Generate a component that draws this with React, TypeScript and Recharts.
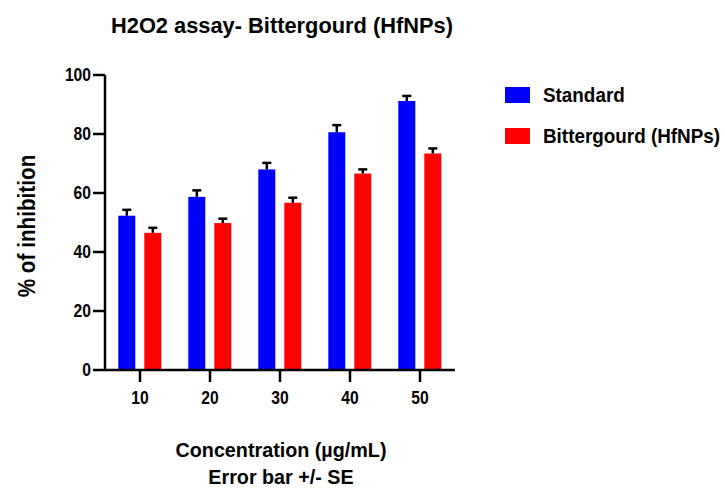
import { BarChart, Bar, XAxis, YAxis } from 'recharts';

const concentrations = ['10', '20', '30', '40', '50'];
const standardValues = [52.3, 58.7, 68.0, 80.6, 91.2];
const standardSE = [2.0, 2.2, 2.2, 2.4, 1.7];
const hfnpValues = [46.5, 49.8, 56.7, 66.6, 73.4];
const hfnpSE = [1.7, 1.5, 1.7, 1.4, 1.7];
const yTicks = [0, 20, 40, 60, 80, 100];

const data = concentrations.map((name, i) => ({
  name,
  standard: standardValues[i],
  standardSE: standardSE[i],
  hfnp: hfnpValues[i],
  hfnpSE: hfnpSE[i],
}));

const FONT = '"Liberation Sans", Arial, sans-serif';

// bar with an upper-only SE whisker, scaled from the bar's own height
const barWithError = (valueKey: string, errKey: string) => (props: any) => {
  const { x, y, width, height, fill, payload } = props;
  const value = payload[valueKey];
  const err = payload[errKey];
  const pxPerUnit = value ? height / value : 0;
  const top = y - err * pxPerUnit;
  const cx = x + width / 2;
  return (
    <g>
      <rect x={x} y={y} width={width} height={height} fill={fill} />
      <line x1={cx} x2={cx} y1={y} y2={top} stroke="#000" strokeWidth={2.5} />
      <line x1={cx - 4.5} x2={cx + 4.5} y1={top} y2={top} stroke="#000" strokeWidth={2.5} />
    </g>
  );
};

// slightly condensed bold tick text
const CondensedTick = (props: any) => {
  const { x, y, payload, textAnchor, vertical } = props;
  return (
    <g transform={`translate(${x},${y}) scale(0.87,1)`}>
      <text
        x={0}
        y={0}
        dy={vertical ? '0.36em' : '0.71em'}
        textAnchor={textAnchor}
        fill="#000"
        fontSize={18}
        fontWeight={700}
        fontFamily={FONT}>
        {payload.value}
      </text>
    </g>
  );
};

const legendItems = [
  { label: 'Standard', color: '#0000FF' },
  { label: 'Bittergourd (HfNPs)', color: '#FF0000' },
];

const LegendBox = () => (
  <div style={{ position: 'absolute', left: 505, top: 74, fontFamily: FONT }}>
    {legendItems.map((it) => (
      <div key={it.label} style={{ display: 'flex', alignItems: 'center', height: 41.5 }}>
        <div style={{ width: 25, height: 16, background: it.color, marginRight: 13, flexShrink: 0 }} />
        <span
          style={{
            fontSize: 20.5,
            fontWeight: 700,
            color: '#000',
            whiteSpace: 'nowrap',
            display: 'inline-block',
            transform: 'scaleX(0.92)',
            transformOrigin: 'left center',
          }}>
          {it.label}
        </span>
      </div>
    ))}
  </div>
);

export default function App() {
  return (
    <div style={{ position: 'relative', width: 725, height: 488, fontFamily: FONT }}>
      <style>{`body{margin:0}`}</style>
      <div
        style={{
          position: 'absolute',
          top: 15,
          left: 0,
          width: 564,
          textAlign: 'center',
          fontSize: 22.5,
          lineHeight: '22.5px',
          fontWeight: 700,
          zIndex: 2,
          transform: 'scaleX(0.97)',
        }}>
        H2O2 assay- Bittergourd (HfNPs)
      </div>
      <div
        style={{
          position: 'absolute',
          top: 436,
          left: 0,
          width: 562,
          textAlign: 'center',
          fontSize: 21,
          fontWeight: 700,
          lineHeight: '27px',
          zIndex: 2,
          transform: 'scaleX(0.94)',
        }}>
        <div>Concentration (µg/mL)</div>
        <div>Error bar +/- SE</div>
      </div>
      <div
        style={{
          position: 'absolute',
          left: 27,
          top: 226,
          transform: 'translate(-50%, -50%) rotate(-90deg) scaleX(0.9)',
          whiteSpace: 'nowrap',
          fontSize: 23,
          fontWeight: 700,
          zIndex: 2,
        }}>
        % of inhibition
      </div>
      <LegendBox />
      <BarChart
        width={725}
        height={488}
        data={data}
        margin={{ top: 75, right: 270, bottom: 88, left: 0 }}
        barGap={9}
        barCategoryGap="19%">
        <XAxis
          dataKey="name"
          axisLine={{ stroke: '#000', strokeWidth: 2.5 }}
          tickLine={{ stroke: '#000', strokeWidth: 2.5 }}
          tickSize={12}
          tickMargin={9}
          height={30}
          tick={<CondensedTick />}
        />
        <YAxis
          domain={[0, 100]}
          ticks={yTicks}
          width={105}
          axisLine={{ stroke: '#000', strokeWidth: 2.5 }}
          tickLine={{ stroke: '#000', strokeWidth: 2.5 }}
          tickSize={12}
          tickMargin={2}
          interval={0}
          tick={<CondensedTick vertical />}
        />
        <Bar
          dataKey="standard"
          name="Standard"
          fill="#0000FF"
          isAnimationActive={false}
          shape={barWithError('standard', 'standardSE')}
        />
        <Bar
          dataKey="hfnp"
          name="Bittergourd (HfNPs)"
          fill="#FF0000"
          isAnimationActive={false}
          shape={barWithError('hfnp', 'hfnpSE')}
        />
      </BarChart>
    </div>
  );
}
